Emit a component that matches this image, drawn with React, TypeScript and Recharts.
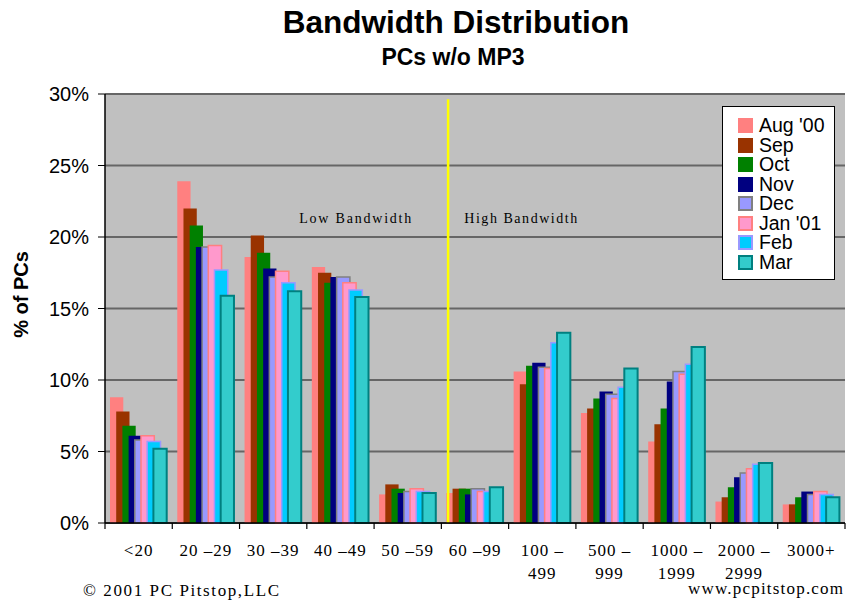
import React from 'react';
import { BarChart, Bar, XAxis, YAxis, CartesianGrid, Legend, ReferenceLine, ReferenceDot } from 'recharts';

const categories = ['<20', '20 –29', '30 –39', '40 –49', '50 –59', '60 –99', '100 –\n499', '500 –\n999', '1000 –\n1999', '2000 –\n2999', '3000+'];
const aug00 = [8.8, 23.9, 18.6, 17.9, 2.0, 2.1, 10.6, 7.7, 5.7, 1.5, 1.3];
const sep = [7.8, 22.0, 20.1, 17.5, 2.7, 2.4, 9.7, 8.0, 6.9, 1.8, 1.3];
const oct = [6.8, 20.8, 18.9, 16.8, 2.4, 2.4, 11.0, 8.7, 8.0, 2.5, 1.8];
const nov = [6.1, 19.3, 17.8, 17.2, 2.1, 2.0, 11.2, 9.2, 9.9, 3.2, 2.2];
const dec = [5.8, 19.3, 17.2, 17.2, 2.2, 2.4, 10.9, 9.0, 10.6, 3.5, 2.0];
const jan01 = [6.1, 19.4, 17.6, 16.8, 2.4, 2.2, 10.8, 8.7, 10.4, 3.8, 2.2];
const feb = [5.7, 17.7, 16.8, 16.3, 2.2, 2.2, 12.6, 9.5, 11.1, 4.1, 2.0];
const mar = [5.2, 15.9, 16.2, 15.8, 2.1, 2.5, 13.3, 10.8, 12.3, 4.2, 1.8];
const yTicks = [0, 5, 10, 15, 20, 25, 30];

const series = [
  { key: 'aug00', name: "Aug '00", values: aug00, fill: '#FF8080', stroke: 'none', sw: 0 },
  { key: 'sep', name: 'Sep', values: sep, fill: '#993300', stroke: 'none', sw: 0 },
  { key: 'oct', name: 'Oct', values: oct, fill: '#008000', stroke: 'none', sw: 0 },
  { key: 'nov', name: 'Nov', values: nov, fill: '#000080', stroke: 'none', sw: 0 },
  { key: 'dec', name: 'Dec', values: dec, fill: '#9999FF', stroke: '#808080', sw: 1.5 },
  { key: 'jan01', name: "Jan '01", values: jan01, fill: '#FF99CC', stroke: '#FF8080', sw: 1.5 },
  { key: 'feb', name: 'Feb', values: feb, fill: '#00CCFF', stroke: '#9999FF', sw: 1.5 },
  { key: 'mar', name: 'Mar', values: mar, fill: '#33CCCC', stroke: '#008080', sw: 2 },
];

const data = categories.map((c, i) => {
  const row: any = { cat: c };
  series.forEach((s) => { row[s.key] = s.values[i]; });
  return row;
});

const W = 846;
const H = 604;
const PLOT_LEFT = 105;
const PLOT_RIGHT_MARGIN = 1;
const BAND = (W - PLOT_LEFT - PLOT_RIGHT_MARGIN) / categories.length;
const SERIF = '"Liberation Serif", "DejaVu Serif", serif';
const SANS = '"Liberation Sans", Arial, sans-serif';

const XTick = (props: any) => {
  const { x, y, payload, index } = props;
  const lines = String(payload.value).split('\n');
  return (
    <g>
      <line x1={x - BAND / 2} x2={x - BAND / 2} y1={y} y2={y + 6} stroke="#000" strokeWidth={1.2} />
      {index === categories.length - 1 && (
        <line x1={x + BAND / 2} x2={x + BAND / 2} y1={y} y2={y + 6} stroke="#000" strokeWidth={1.2} />
      )}
      {lines.map((l, i) => (
        <text key={i} x={x} y={y + 33 + i * 23} textAnchor="middle" fontFamily={SERIF} fontSize={17} letterSpacing={1} fill="#000">
          {l}
        </text>
      ))}
    </g>
  );
};

// label rendered at a reference dot, shifted by a fraction of a category band
const annot = (text: string, len: number, bandShift: number) => (p: any) => {
  const vb = p.viewBox || {};
  const cx = (vb.x || 0) + (vb.width || 0) / 2 + bandShift * BAND;
  const cy = (vb.y || 0) + (vb.height || 0) / 2;
  return (
    <text x={cx} y={cy + 5} textAnchor="middle" fontFamily={SERIF} fontSize={14} fill="#000" textLength={len} lengthAdjust="spacing">
      {text}
    </text>
  );
};

const DividerShape = (p: any) => {
  const shift = BAND * 0.1;
  return <line x1={p.x1 + shift} x2={p.x2 + shift} y1={p.y1} y2={p.y2} stroke="#FFFF00" strokeWidth={2.5} />;
};

const LegendBox = () => (
  <div style={{ width: 113, height: 174, boxSizing: 'border-box', border: '1px solid #000', background: '#fff', padding: '9px 0 0 15px', fontFamily: SANS, fontSize: 19.5, color: '#000' }}>
    {series.map((s) => (
      <div key={s.key} style={{ display: 'flex', alignItems: 'center', height: 19.5, lineHeight: '19.5px', whiteSpace: 'nowrap' }}>
        <span style={{ display: 'inline-block', width: 15, height: 15, background: s.fill, border: s.sw ? `2px solid ${s.stroke}` : 'none', boxSizing: 'border-box', marginRight: 6, flex: 'none' }} />
        <span>{s.name}</span>
      </div>
    ))}
  </div>
);

const YLabel = (p: any) => {
  const vb = p.viewBox || {};
  const cx = 21;
  const cy = (vb.y || 0) + (vb.height || 0) / 2 - 14;
  return (
    <text x={cx} y={cy} transform={`rotate(-90, ${cx}, ${cy})`} textAnchor="middle" dominantBaseline="central" fontFamily={SANS} fontWeight="bold" fontSize={20} fill="#000">
      % of PCs
    </text>
  );
};

export default function App() {
  return (
    <div style={{ position: 'absolute', left: 0, top: 0, width: W, height: H, background: '#fff' }}>
      <BarChart
        width={W}
        height={H}
        data={data}
        margin={{ top: 94, right: PLOT_RIGHT_MARGIN, bottom: 0, left: 0 }}
        barSize={13.3}
        barGap={-7.1}
      >
        <CartesianGrid xAxisId="cat" vertical={false} stroke="#666" strokeWidth={2} fill="#C0C0C0" fillOpacity={1} />
        <XAxis
          xAxisId="cat"
          dataKey="cat"
          type="category"
          height={81}
          interval={0}
          tickSize={0}
          tickMargin={0}
          tickLine={false}
          axisLine={{ stroke: '#000', strokeWidth: 1.5 }}
          tick={<XTick />}
        />
        <YAxis
          domain={[0, 30]}
          ticks={yTicks}
          interval={0}
          tickFormatter={(v: number) => `${v}%`}
          width={PLOT_LEFT}
          tickSize={7}
          tickMargin={9}
          axisLine={{ stroke: '#000', strokeWidth: 1.5 }}
          tickLine={{ stroke: '#000' }}
          tick={{ fontSize: 20, fill: '#000', fontFamily: SANS }}
          label={{ content: YLabel }}
        />
        {series.map((s) => (
          <Bar
            key={s.key}
            xAxisId="cat"
            dataKey={s.key}
            name={s.name}
            fill={s.fill}
            stroke={s.stroke}
            strokeWidth={s.sw}
            isAnimationActive={false}
          />
        ))}
        <ReferenceLine
          xAxisId="cat"
          position="start"
          segment={[{ x: '60 –99', y: 0 }, { x: '60 –99', y: 29.63 }]}
          stroke="#FFFF00"
          strokeWidth={2.5}
          shape={DividerShape}
        />
        <ReferenceDot xAxisId="cat" x="40 –49" y={21.3} r={1} fill="none" stroke="none" label={{ content: annot('Low Bandwidth', 112, 0.22) }} />
        <ReferenceDot xAxisId="cat" x={'100 –\n499'} y={21.3} r={1} fill="none" stroke="none" label={{ content: annot('High Bandwidth', 113, -0.32) }} />
        <Legend
          layout="horizontal"
          verticalAlign="middle"
          align="center"
          wrapperStyle={{ left: 722, top: 106, width: 113, height: 174 }}
          content={<LegendBox />}
        />
      </BarChart>
      <svg width={W} height={H} style={{ position: 'absolute', left: 0, top: 0, pointerEvents: 'none' }}>
        <text x={456} y={33} textAnchor="middle" fontFamily={SANS} fontWeight="bold" fontSize={31.5} fill="#000">
          Bandwidth Distribution
        </text>
        <text x={453} y={65} textAnchor="middle" fontFamily={SANS} fontWeight="bold" fontSize={23} fill="#000">
          PCs w/o MP3
        </text>
        <text x={83} y={596} fontFamily={SERIF} fontSize={17} fill="#000" textLength={196} lengthAdjust="spacing">
          © 2001 PC Pitstop,LLC
        </text>
        <text x={688} y={594} fontFamily={SERIF} fontSize={17} fill="#000" textLength={155} lengthAdjust="spacing">
          www.pcpitstop.com
        </text>
      </svg>
    </div>
  );
}
